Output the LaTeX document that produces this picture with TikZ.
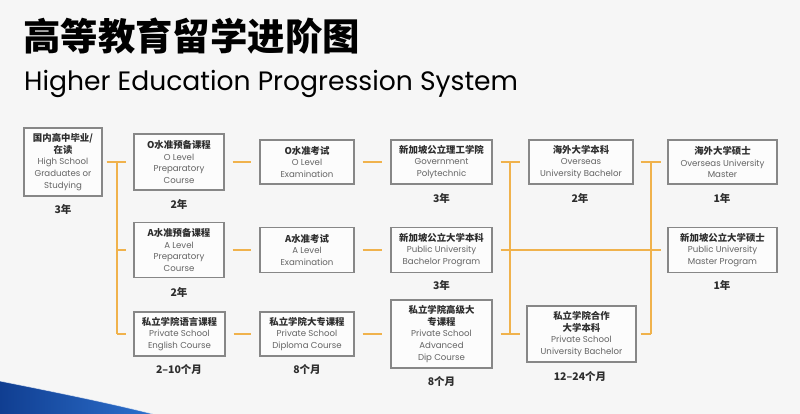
\documentclass[tikz,border=0pt]{standalone}
\usepackage{fontspec}
\setmainfont{Poppins}
\newfontfamily\cjk{Noto Sans CJK SC}
\definecolor{bg}{RGB}{246,246,246}
\definecolor{lineor}{RGB}{240,178,76}
\definecolor{boxline}{RGB}{135,135,135}
\definecolor{cntext}{RGB}{45,45,45}
\definecolor{entext}{RGB}{100,100,100}
\definecolor{bluedark}{RGB}{16,62,145}
\definecolor{bluelight}{RGB}{45,112,205}
\tikzset{
  bx/.style 2 args={draw=boxline, line width=1.1pt, fill=white, fill opacity=0.7, text opacity=1,
    minimum width=#1, minimum height=#2, inner sep=0pt, align=center,
    font=\fontsize{8.6}{11.8}\selectfont, text=entext},
  conn/.style={draw=lineor, line width=1.5pt},
  yr/.style={font=\cjk\bfseries\fontsize{10.5}{12}\selectfont, text=cntext, inner sep=0pt},
}
\newcommand{\cn}[1]{{\cjk\bfseries\fontsize{9.4}{11.8}\selectfont\color{cntext}#1}}
\begin{document}
\begin{tikzpicture}[x=1pt,y=-1pt]
\useasboundingbox (0,0) rectangle (800,414);
\fill[bg] (0,0) rectangle (800,414);
% blue swoosh
\shade[left color=bluedark, right color=bluelight] (0,381) .. controls (50,391) and (110,403) .. (153,414) -- (0,414) -- cycle;
\draw[white, opacity=0.6, line width=0.8pt] (0,381) .. controls (50,391) and (110,403) .. (153,414);
% titles
\node[anchor=west, inner sep=0pt, text=black] (t1) at (23,36) {\cjk\bfseries\fontsize{37.4}{40}\selectfont 高等教育留学进阶图};
\node[anchor=base west, inner sep=0pt, text=black] (t2) at (24,91) {\fontsize{26.6}{30}\selectfont Higher Education Progression System};
% boxes
\node[bx={78pt}{68pt}] (hs) at (63,162) {\cn{国内高中毕业/}\\\cn{在读}\\High School\\Graduates or\\Studying};
\node[bx={90pt}{56pt}] (oprep) at (179,162) {\cn{O水准预备课程}\\O Level\\Preparatory\\Course};
\node[bx={90pt}{55pt}] (aprep) at (179,250) {\cn{A水准预备课程}\\A Level\\Preparatory\\Course};
\node[bx={91pt}{44pt}] (eng) at (179.5,334) {\cn{私立学院语言课程}\\Private School\\English Course};
\node[bx={94pt}{44pt}] (oexam) at (307,162) {\cn{O水准考试}\\O Level\\Examination};
\node[bx={94pt}{45pt}] (aexam) at (307,250) {\cn{A水准考试}\\A Level\\Examination};
\node[bx={94pt}{44pt}] (dip) at (307,334) {\cn{私立学院大专课程}\\Private School\\Diploma Course};
\node[bx={101pt}{44pt}] (poly) at (441.5,162) {\cn{新加坡公立理工学院}\\Government\\Polytechnic};
\node[bx={101pt}{45pt}] (pub) at (441.5,250) {\cn{新加坡公立大学本科}\\Public University\\Bachelor Program};
\node[bx={101pt}{68pt}] (adv) at (441.5,334) {\cn{私立学院高级大}\\\cn{专课程}\\Private School\\Advanced\\Dip Course};
\node[bx={104pt}{44pt}] (osb) at (581,162) {\cn{海外大学本科}\\Overseas\\University Bachelor};
\node[bx={109pt}{56pt}] (psb) at (581.5,334) {\cn{私立学院合作}\\\cn{大学本科}\\Private School\\University Bachelor};
\node[bx={109pt}{44pt}] (osm) at (722.5,162) {\cn{海外大学硕士}\\Overseas University\\Master};
\node[bx={109pt}{45pt}] (pum) at (722.5,250) {\cn{新加坡公立大学硕士}\\Public University\\Master Program};
% durations
\node[yr] (y1) at (63,209) {3年};
\node[yr] (y2) at (179,204) {2年};
\node[yr] (y3) at (179,292) {2年};
\node[yr] (y4) at (179,369) {2–10个月};
\node[yr] (y5) at (307,369) {8个月};
\node[yr] (y6) at (441.5,198) {3年};
\node[yr] (y7) at (441.5,285) {3年};
\node[yr] (y8) at (441.5,381) {8个月};
\node[yr] (y9) at (580,198) {2年};
\node[yr] (y10) at (580,376) {12–24个月};
\node[yr] (y11) at (722,198) {1年};
\node[yr] (y12) at (722,285) {1年};
% bus coordinates
\coordinate (bLt) at (117,162);
\coordinate (bLb) at (117,334);
\coordinate (bMt) at (510,162);
\coordinate (bMb) at (510,334);
\coordinate (bRt) at (651,162);
\coordinate (bRb) at (651,334);
% connectors: left bus
\draw[conn, shorten <=4pt, shorten >=7pt] (hs) -- (oprep);
\draw[conn] (bLt) -- (bLb);
\draw[conn, shorten >=7pt] (bLt |- aprep) -- (aprep);
\draw[conn, shorten >=7pt] (bLb) -- (eng);
% rows
\draw[conn, shorten <=8pt, shorten >=8pt] (oprep) -- (oexam);
\draw[conn, shorten <=8pt, shorten >=8pt] (oexam) -- (poly);
\draw[conn, shorten <=8pt, shorten >=8pt] (aprep) -- (aexam);
\draw[conn, shorten <=8pt, shorten >=8pt] (aexam) -- (pub);
\draw[conn, shorten <=8pt, shorten >=8pt] (eng) -- (dip);
\draw[conn, shorten <=8pt, shorten >=8pt] (dip) -- (adv);
% middle bus
\draw[conn, shorten <=8pt, shorten >=8pt] (poly) -- (osb);
\draw[conn, shorten <=8pt, shorten >=6pt] (pub) -- (pum);
\draw[conn, shorten <=8pt, shorten >=6pt] (adv) -- (psb);
\draw[conn] (bMt) -- (bMb);
% right bus
\draw[conn, shorten <=7pt, shorten >=6pt] (osb) -- (osm);
\draw[conn, shorten <=4pt] (psb) -- (bRb);
\draw[conn] (bRt) -- (bRb);
\end{tikzpicture}
\end{document}
